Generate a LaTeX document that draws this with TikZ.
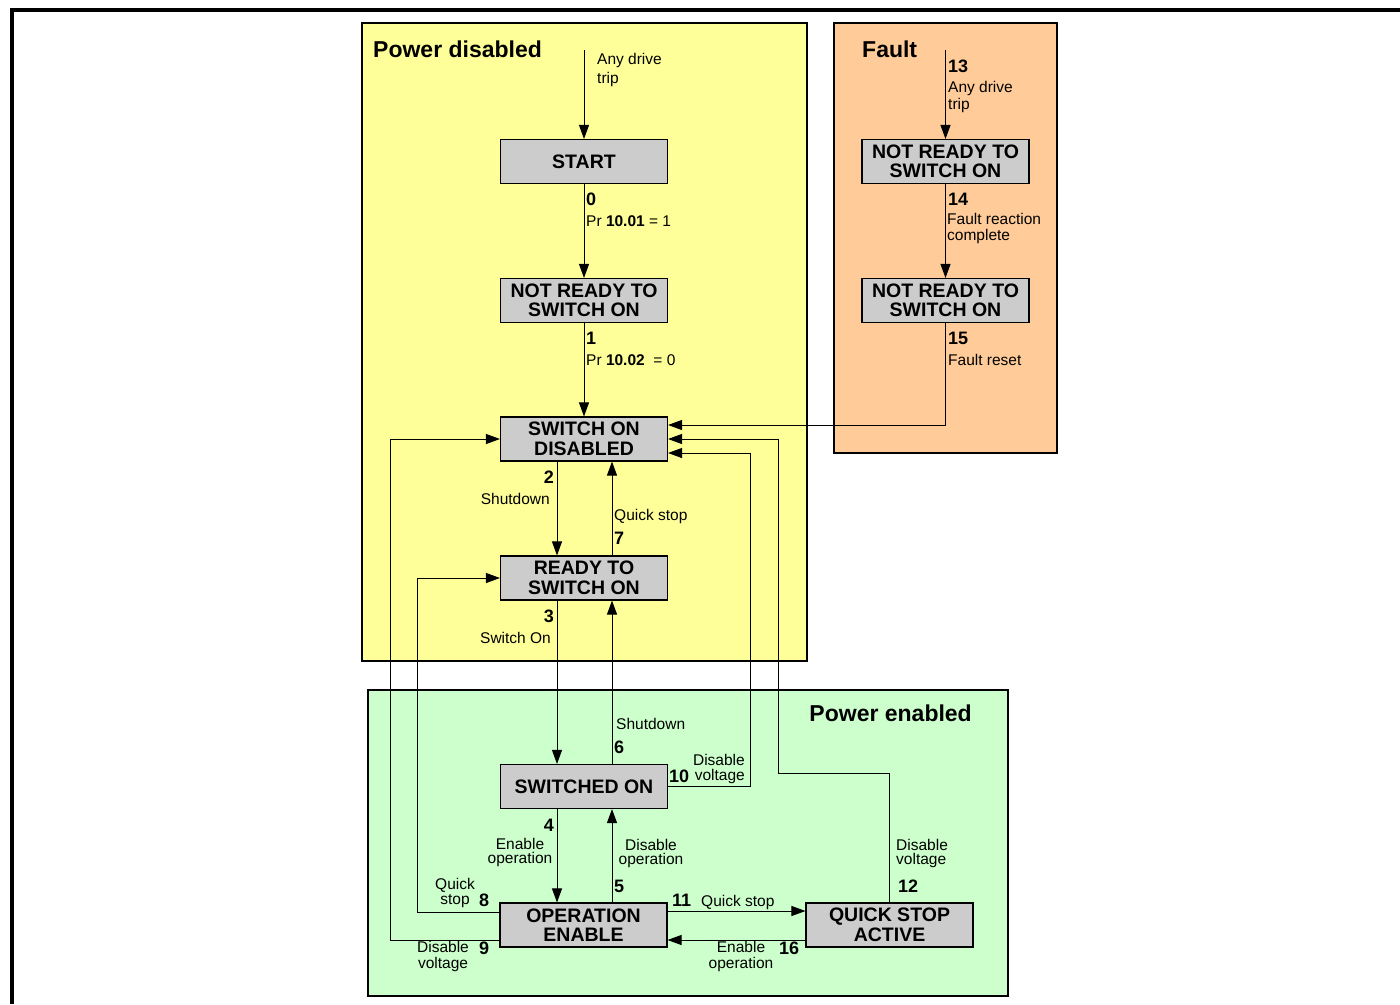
\documentclass[tikz,border=0pt]{standalone}
\usepackage{fontspec}
\setmainfont{Liberation Sans}
\usetikzlibrary{arrows.meta}
\definecolor{pdyellow}{HTML}{FFFF99}
\definecolor{fltorange}{HTML}{FFCC99}
\definecolor{pegreen}{HTML}{CCFFCC}
\definecolor{stategray}{HTML}{CCCCCC}
\tikzset{
  region/.style={draw=black, line width=2.4pt},
  statebox/.style={draw=black, line width=1.1pt, fill=stategray, minimum width=167pt, minimum height=44pt, inner sep=0pt, align=center, font=\fontsize{19.5}{19.5}\selectfont\bfseries},
  lbl/.style={inner sep=0pt, font=\fontsize{15.5}{15}\selectfont},
  num/.style={inner sep=0pt, font=\fontsize{18}{18}\selectfont\bfseries},
  ttl/.style={inner sep=0pt, font=\fontsize{23}{23}\selectfont\bfseries},
  arr/.style={line width=1pt, -{Triangle[length=14pt,width=10pt]}},
  wire/.style={line width=1pt}
}
\begin{document}
\begin{tikzpicture}[x=1pt, y=-1pt]
\useasboundingbox (0,0) rectangle (1400,1004);
% outer frame
\draw[line width=4pt] (10,9.5) -- (1400,9.5);
\draw[line width=4pt] (12,8) -- (12,1004);
% regions
\draw[region, fill=pdyellow] (362,23) rectangle (807,661);
\draw[region, fill=fltorange] (834,23) rectangle (1057,453);
\draw[region, fill=pegreen] (368,690) rectangle (1008,996);
\node[ttl, anchor=west] (tpd) at (373,49) {Power disabled};
\node[ttl, anchor=west] (tflt) at (862,49) {Fault};
\node[ttl, anchor=east] (tpe) at (972,713) {Power enabled};
% states
\node[statebox] (start) at (584,161.5) {START};
\node[statebox] (nr) at (584,300.5) {NOT READY TO\\SWITCH ON};
\node[statebox] (sod) at (584,439) {SWITCH ON\\DISABLED};
\node[statebox] (rtso) at (584,578) {READY TO\\SWITCH ON};
\node[statebox] (swon) at (584,786.5) {SWITCHED ON};
\node[statebox] (oe) at (583.5,925) {OPERATION\\ENABLE};
\node[statebox] (qsa) at (889.5,925) {QUICK STOP\\ACTIVE};
\node[statebox] (fnr1) at (945.5,161.5) {NOT READY TO\\SWITCH ON};
\node[statebox] (fnr2) at (945.5,300.5) {NOT READY TO\\SWITCH ON};
% helper coordinates
\coordinate (top1) at (584,50);
\coordinate (top2) at (945.5,50);
\coordinate (la) at (557,0);
\coordinate (lb) at (612,0);
\coordinate (c10a) at (750,786.5);
\coordinate (c10b) at (750,453);
\coordinate (c8a) at (417,912);
\coordinate (c8b) at (417,578);
\coordinate (c9a) at (390,940);
\coordinate (c9b) at (390,439);
\coordinate (h911) at (0,911);
\coordinate (h940) at (0,940);
\coordinate (c12a) at (889.5,773);
\coordinate (c12b) at (778,773);
\coordinate (c12c) at (778,439);
\coordinate (c15) at (945.5,425);
% connectors
\draw[arr] (top1) -- (start);
\draw[arr] (start) -- (nr);
\draw[arr] (nr) -- (sod);
\draw[arr] (sod.south -| la) -- (rtso.north -| la);
\draw[arr] (rtso.north -| lb) -- (sod.south -| lb);
\draw[arr] (rtso.south -| la) -- (swon.north -| la);
\draw[arr] (swon.north -| lb) -- (rtso.south -| lb);
\draw[arr] (swon.south -| la) -- (oe.north -| la);
\draw[arr] (oe.north -| lb) -- (swon.south -| lb);
\draw[arr] (swon.east) -- (c10a) -- (c10b) -- (sod.east |- c10b);
\draw[arr] (oe.west |- c8a) -- (c8a) -- (c8b) -- (rtso.west);
\draw[arr] (oe.west |- c9a) -- (c9a) -- (c9b) -- (sod.west);
\draw[arr] (oe.east |- h911) -- (qsa.west |- h911);
\draw[arr] (qsa.west |- h940) -- (oe.east |- h940);
\draw[arr] (qsa.north) -- (c12a) -- (c12b) -- (c12c) -- (sod.east);
\draw[arr] (fnr2.south) -- (c15) -- (sod.east |- c15);
\draw[arr] (top2) -- (fnr1);
\draw[arr] (fnr1) -- (fnr2);
% labels
\node[lbl, anchor=west, align=left, font=\fontsize{15.5}{19}\selectfont] (l_any1) at (597,69.5) {Any drive\\trip};
\node[num, anchor=west] (n0) at (586,199) {0};
\node[lbl, anchor=west] (l0) at (586,221) {Pr \textbf{10.01} = 1};
\node[num, anchor=west] (n1) at (586,338) {1};
\node[lbl, anchor=west] (l1) at (586,360) {Pr \textbf{10.02} \ = 0};
\node[num, anchor=east] (n2) at (554,477) {2};
\node[lbl, anchor=east] (l2) at (550,499) {Shutdown};
\node[lbl, anchor=west] (l7) at (614,516) {Quick stop};
\node[num, anchor=west] (n7) at (614,538) {7};
\node[num, anchor=east] (n3) at (554,616) {3};
\node[lbl, anchor=east] (l3) at (551,638) {Switch On};
\node[lbl, anchor=west] (l6) at (616,724) {Shutdown};
\node[num, anchor=west] (n6) at (614,747) {6};
\node[num, anchor=west] (n10) at (669,776) {10};
\node[lbl, anchor=east, align=right] (l10) at (745,768.5) {Disable\\voltage};
\node[num, anchor=east] (n4) at (554,825) {4};
\node[lbl, align=center, font=\fontsize{15.5}{13.5}\selectfont] (l4) at (520,852.5) {Enable\\operation};
\node[lbl, align=center, font=\fontsize{15.5}{14}\selectfont] (l5) at (651,853) {Disable\\operation};
\node[num, anchor=west] (n5) at (614,886) {5};
\node[lbl, align=center] (l8) at (455,892.5) {Quick\\stop};
\node[num, anchor=west] (n8) at (479,900) {8};
\node[lbl, align=center, font=\fontsize{15.5}{16}\selectfont] (l9) at (443,956) {Disable\\voltage};
\node[num, anchor=west] (n9) at (479,948) {9};
\node[num, anchor=west] (n11) at (672,900) {11};
\node[lbl, anchor=west] (l11) at (701,902) {Quick stop};
\node[lbl, align=center, font=\fontsize{15.5}{16}\selectfont] (l16) at (741,956) {Enable\\operation};
\node[num, anchor=west] (n16) at (779,948) {16};
\node[lbl, anchor=west, align=left, font=\fontsize{15.5}{14}\selectfont] (l12) at (896,853) {Disable\\voltage};
\node[num, anchor=west] (n12) at (898,886) {12};
\node[num, anchor=west] (n13) at (948,66) {13};
\node[lbl, anchor=west, align=left, font=\fontsize{15.5}{17}\selectfont] (l13) at (948,96.5) {Any drive\\trip};
\node[num, anchor=west] (n14) at (948,199) {14};
\node[lbl, anchor=west, align=left, font=\fontsize{15.5}{16}\selectfont] (l14) at (947,228) {Fault reaction\\complete};
\node[num, anchor=west] (n15) at (948,338) {15};
\node[lbl, anchor=west] (l15) at (948,360) {Fault reset};
\end{tikzpicture}
\end{document}
